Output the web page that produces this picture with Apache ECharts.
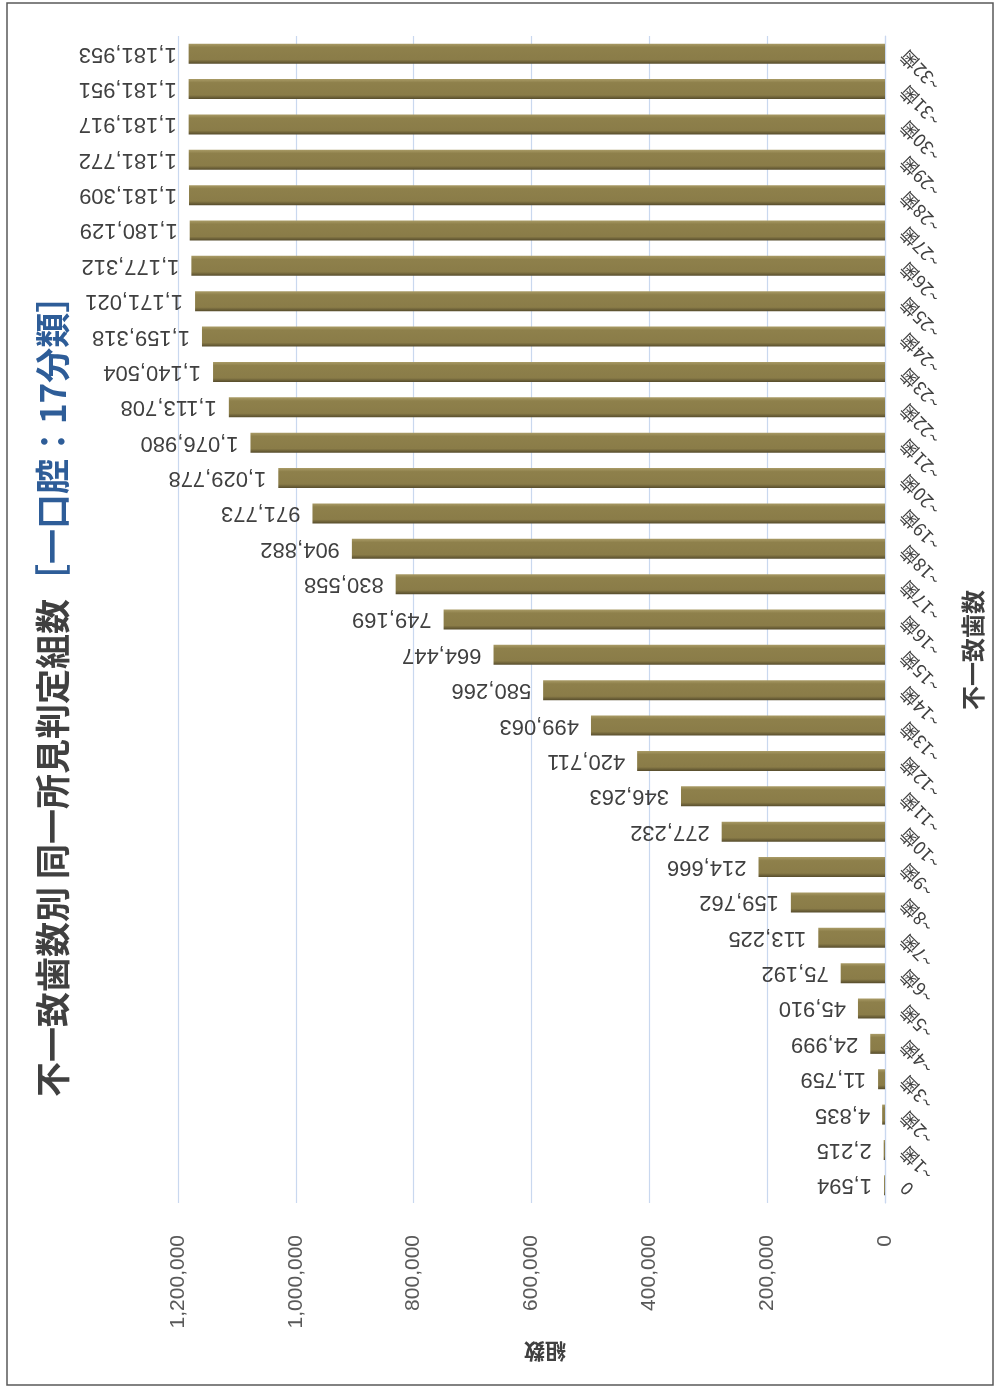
<!DOCTYPE html>
<html>
<head>
<meta charset="utf-8">
<script src="https://cdn.jsdelivr.net/npm/echarts@6/dist/echarts.min.js"></script>
<style>
  html, body { margin: 0; padding: 0; background: #fff; }
  #chart { width: 997px; height: 1388px; }
</style>
</head>
<body>
<div id="chart"></div>
<script>
// categories: bottom -> top
const categories = ['0', '~1歯', '~2歯', '~3歯', '~4歯', '~5歯', '~6歯', '~7歯', '~8歯', '~9歯', '~10歯',
  '~11歯', '~12歯', '~13歯', '~14歯', '~15歯', '~16歯', '~17歯', '~18歯', '~19歯', '~20歯',
  '~21歯', '~22歯', '~23歯', '~24歯', '~25歯', '~26歯', '~27歯', '~28歯', '~29歯', '~30歯',
  '~31歯', '~32歯'];
const counts = [1594, 2215, 4835, 11759, 24999, 45910, 75192, 113225, 159762, 214666, 277232,
  346263, 420711, 499063, 580266, 664447, 749169, 830558, 904882, 971773, 1029778,
  1076980, 1113708, 1140504, 1159318, 1171021, 1177312, 1180129, 1181309, 1181772, 1181917,
  1181951, 1181953];
const valueTicks = { min: 0, max: 1200000, interval: 200000 };
const titleMain = '不一致歯数別 同一所見判定組数';
const titleSub = '［一口腔：17分類］';
const valueAxisName = '組数';
const catAxisName = '不一致歯数';

const fmt = v => Number(v).toLocaleString('en-US');
const font = '"Liberation Sans", Arial, "Noto Sans CJK JP", sans-serif';
const jpFont = '"Noto Sans CJK JP", sans-serif';

const chart = echarts.init(document.getElementById('chart'));
chart.setOption({
  backgroundColor: '#fff',
  animation: false,
  textStyle: { fontFamily: font },
  grid: { left: 178, right: 112, top: 36, bottom: 185, outerBoundsMode: 'none' },
  xAxis: {
    type: 'value',
    inverse: true,
    min: valueTicks.min,
    max: valueTicks.max,
    interval: valueTicks.interval,
    axisLine: { show: false },
    axisTick: { show: false },
    splitLine: { lineStyle: { color: '#c9d8ef', width: 1.2 } },
    axisLabel: { rotate: 90, fontSize: 21, color: '#595959', margin: 32, formatter: fmt }
  },
  yAxis: {
    type: 'category',
    data: categories,
    position: 'right',
    axisLine: { lineStyle: { color: '#c9d8ef', width: 1.2 } },
    axisTick: { show: false },
    axisLabel: { rotate: 135, align: 'right', verticalAlign: 'middle', fontSize: 18, color: '#404040', margin: 18, fontFamily: jpFont }
  },
  series: [{
    type: 'bar',
    data: counts,
    barWidth: 20,
    itemStyle: {
      color: new echarts.graphic.LinearGradient(0, 0, 0, 1, [
        { offset: 0, color: '#a99b66' },
        { offset: 0.18, color: '#8e804b' },
        { offset: 0.8, color: '#8a7c48' },
        { offset: 1, color: '#564c2c' }
      ])
    },
    label: {
      show: true,
      position: 'left',
      distance: 12,
      rotate: 180,
      align: 'left',
      verticalAlign: 'middle',
      fontSize: 22,
      color: '#404040',
      formatter: p => fmt(p.value)
    }
  }],
  graphic: [
    {
      type: 'rect',
      shape: { x: 7, y: 3, width: 986, height: 1382 },
      style: { fill: 'none', stroke: '#595959', lineWidth: 1.5 },
      silent: true
    },
    {
      type: 'text',
      x: 53, y: 1097,
      rotation: Math.PI / 2,
      style: {
        text: '{a|' + titleMain + '}{b|' + titleSub + '}',
        textAlign: 'left',
        textVerticalAlign: 'middle',
        rich: {
          a: { fontSize: 35, fontWeight: 'bold', fill: '#404040', fontFamily: jpFont },
          b: { fontSize: 35, fontWeight: 'bold', fill: '#2e5d98', fontFamily: jpFont }
        }
      }
    },
    {
      type: 'text',
      x: 545, y: 1352,
      rotation: Math.PI,
      style: {
        text: valueAxisName,
        textAlign: 'center',
        textVerticalAlign: 'middle',
        font: 'bold 21px ' + jpFont,
        fill: '#404040'
      }
    },
    {
      type: 'text',
      x: 973, y: 650,
      rotation: Math.PI / 2,
      style: {
        text: catAxisName,
        textAlign: 'center',
        textVerticalAlign: 'middle',
        font: 'bold 24px ' + jpFont,
        fill: '#404040'
      }
    }
  ]
});
</script>
</body>
</html>
